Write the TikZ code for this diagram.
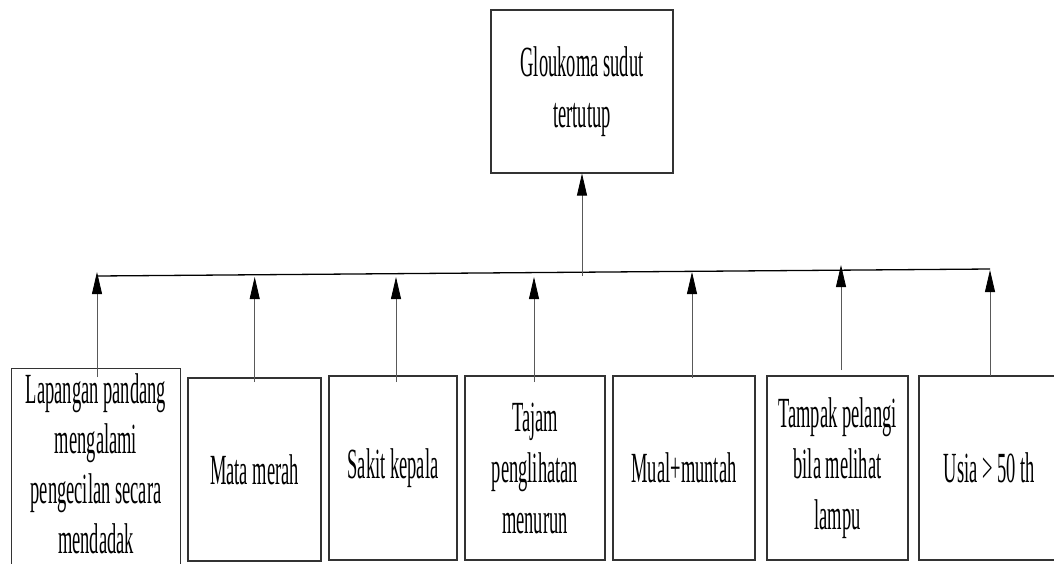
\documentclass[tikz,border=0pt]{standalone}
\usepackage{fontspec}
\setmainfont{Liberation Serif}[FakeStretch=0.43]
\usetikzlibrary{arrows.meta}
\tikzset{
  boxline/.style={draw=black!80, line width=1.1pt},
  box/.style={boxline, rectangle, inner sep=0pt, align=center,
    font=\fontsize{43}{51}\selectfont},
  arr/.style={draw=black!65, line width=0.8pt, -{Triangle[width=10pt,length=22pt,color=black]}},
  hline/.style={draw=black, line width=1.3pt}
}
\begin{document}
\begin{tikzpicture}[x=1pt,y=-1pt]
\useasboundingbox (0,0) rectangle (1054,563);
\clip (0,0) rectangle (1054,563);
\node[box, minimum width=182pt, minimum height=163pt] (top) at (582,91.5) {Gloukoma sudut\\tertutup};
\node[box, draw=none, minimum width=168pt, minimum height=190pt, font=\fontsize{43}{50}\selectfont] (b1) at (96,464) {Lapangan pandang\\mengalami\\pengecilan secara\\mendadak};
\draw[boxline] ([yshift=-20pt]b1.south west) -- (b1.north west) -- (b1.north east) -- ([yshift=-20pt]b1.south east);
\node[box, minimum width=133pt, minimum height=183pt] (b2) at (254.5,469.5) {Mata merah};
\node[box, minimum width=128pt, minimum height=184pt] (b3) at (393,468) {Sakit kepala};
\node[box, minimum width=140pt, minimum height=184pt] (b4) at (535,468) {Tajam\\penglihatan\\menurun};
\node[box, minimum width=142pt, minimum height=184pt] (b5) at (684,468) {Mual+muntah};
\node[box, minimum width=141pt, minimum height=184pt] (b6) at (837.5,468) {Tampak pelangi\\bila melihat\\lampu};
\node[box, minimum width=141pt, minimum height=184pt] (b7) at (989.5,468) {Usia > 50 th};
% horizontal bar
\coordinate (L) at (97,276);
\coordinate (R) at (990,269);
\coordinate (M) at (582,276);
\draw[hline] (L) -- (R);
\draw[arr] (M) -- (M |- top.south);
% arrow starts
\coordinate (s1) at (97,377);
\coordinate (s2) at (254.7,382);
\coordinate (s3) at (396,382);
\coordinate (s4) at (534,382);
\coordinate (s5) at (692,378);
\coordinate (s6) at (841,370);
\coordinate (s7) at (990,376);
% arrow tips
\coordinate (t1) at (97,272);
\coordinate (t2) at (254.7,277);
\coordinate (t3) at (396,277);
\coordinate (t4) at (534,277);
\coordinate (t5) at (692,272);
\coordinate (t6) at (841,265);
\coordinate (t7) at (990,270);
\foreach \i in {1,...,7} {\draw[arr] (s\i) -- (t\i);}
\end{tikzpicture}
\end{document}
